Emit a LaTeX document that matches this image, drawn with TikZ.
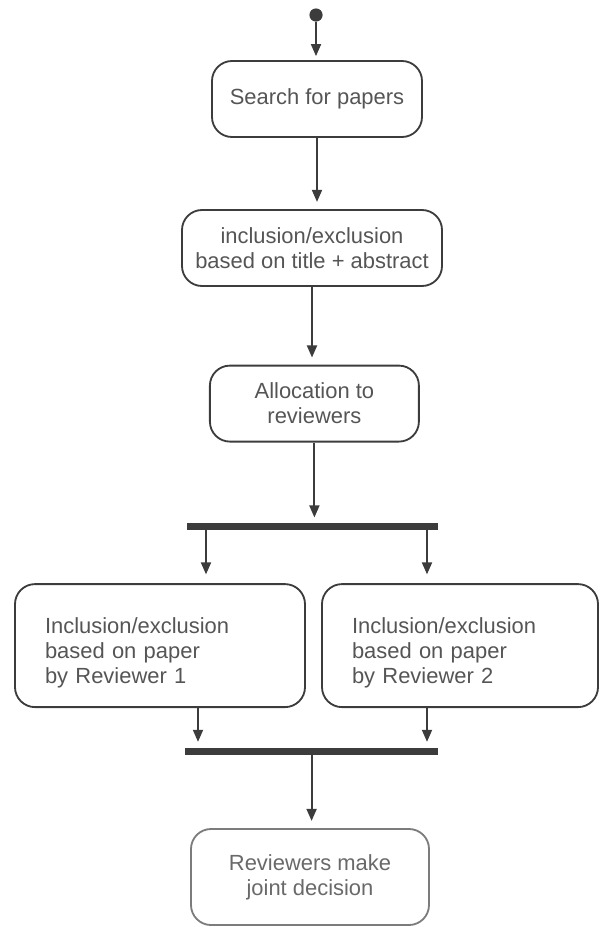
\documentclass[tikz,border=0pt]{standalone}
\usepackage{fontspec}
\setmainfont{Liberation Sans}
\usetikzlibrary{arrows.meta, positioning}
\definecolor{edgegray}{HTML}{3C3C3C}
\definecolor{textgray}{HTML}{555555}
\definecolor{softgray}{HTML}{7C7C7C}

\begin{document}
\begin{tikzpicture}[
  act/.style={draw=edgegray, line width=1.3pt, rounded corners=0.5cm, text=textgray,
    align=center, minimum height=1.9cm, font=\fontsize{15.6}{17.8}\selectfont},
  rev/.style={act, align=left, inner xsep=0.75cm, minimum height=3.075cm,
    execute at begin node={\rule{0pt}{22pt}}},
  bar/.style={fill=edgegray, minimum height=0.175cm, inner sep=0pt},
  flow/.style={-{Triangle[length=0.3cm, width=0.25cm]}, line width=1.3pt, draw=edgegray, shorten >=0.18cm}
]
\useasboundingbox (0,0) rectangle (15,-23.175);

\node[circle, fill=edgegray, minimum size=0.33cm, inner sep=0pt] (start) at (7.9,-0.375) {};
\node[act, minimum width=5.25cm] (search) at (7.925,-2.475) {Search for papers};
\node[act, minimum width=6.5cm] (screen) at (7.8,-6.2) {inclusion/exclusion\\based on title + abstract};
\node[act, minimum width=5.225cm] (alloc) at (7.86,-10.09) {Allocation to\\reviewers};
\node[bar, minimum width=6.275cm] (fork) at (7.8125,-13.15) {};
\node[rev, text width=5.75cm] (rev1) at (4.0,-16.14) {Inclusion/exclusion\\based on paper\\by Reviewer 1};
\node[rev, text width=5.4cm] (rev2) at (11.5,-16.14) {Inclusion/exclusion\\based on paper\\by Reviewer 2};
\node[bar, minimum width=6.325cm] (join) at (7.79,-18.79) {};
\node[act, draw=softgray, text=softgray!85!black, minimum width=5.95cm, minimum height=2.4cm] (decide) at (7.75,-21.925) {Reviewers make\\joint decision};

\draw[flow, shorten >=0.1cm] (start) -- (start |- search.north);
\draw[flow] (search.south) -- (search.south |- screen.north);
\draw[flow] (screen.south) -- (screen.south |- alloc.north);
\draw[flow, shorten >=0.12cm] (alloc.south) -- (alloc.south |- fork.north);
\draw[flow, shorten >=0.22cm] ([xshift=1.15cm]rev1.north |- fork.south) -- ([xshift=1.15cm]rev1.north);
\draw[flow, shorten >=0.22cm] ([xshift=-0.825cm]rev2.north |- fork.south) -- ([xshift=-0.825cm]rev2.north);
\draw[flow, shorten >=0.15cm] ([xshift=0.95cm]rev1.south) -- ([xshift=0.95cm]rev1.south |- join.north);
\draw[flow, shorten >=0.15cm] ([xshift=-0.825cm]rev2.south) -- ([xshift=-0.825cm]rev2.south |- join.north);
\draw[flow] (join.south) -- (join.south |- decide.north);
\end{tikzpicture}
\end{document}
